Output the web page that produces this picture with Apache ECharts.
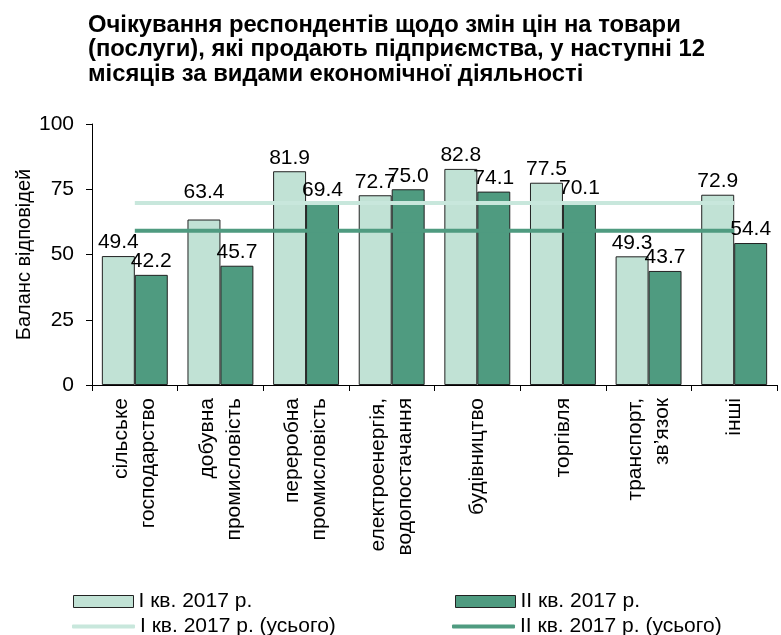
<!DOCTYPE html>
<html>
<head>
<meta charset="utf-8">
<script src="https://cdn.jsdelivr.net/npm/echarts@6/dist/echarts.min.js"></script>
<style>html,body{margin:0;padding:0;background:#fff}#c{width:781px;height:635px}</style>
</head>
<body>
<div id="c"></div>
<script>
const categories = ['сільське\nгосподарство', 'добувна\nпромисловість', 'переробна\nпромисловість', 'електроенергія,\nводопостачання', 'будівництво', 'торгівля', 'транспорт,\nзв’язок', 'інші'];
const q1 = [49.4, 63.4, 81.9, 72.7, 82.8, 77.5, 49.3, 72.9];
const q2 = [42.2, 45.7, 69.4, 75.0, 74.1, 70.1, 43.7, 54.4];
const q1Total = [69.7, 69.7, 69.7, 69.7, 69.7, 69.7, 69.7, 69.7];
const q2Total = [59.1, 59.1, 59.1, 59.1, 59.1, 59.1, 59.1, 59.1];
const yTicks = [0, 25, 50, 75, 100];
const names = ['І кв. 2017 р.', 'ІІ кв. 2017 р.', 'І кв. 2017 р. (усього)', 'ІІ кв. 2017 р. (усього)'];

const FONT = 'Liberation Sans, Arial, sans-serif';
const LIGHT = '#c1e2d5';
const DARK = '#4f9b80';
const LIGHTLINE = '#c8e7dc';
const FS = 21;

const chart = echarts.init(document.getElementById('c'));
function legendItem(name, left, top, isLine) {
  return {
    data: [{ name: name, icon: isLine ? 'roundRect' : 'rect' }],
    left: left, top: top, orient: 'horizontal', itemGap: 0,
    itemWidth: isLine ? 63 : 60, itemHeight: isLine ? 4 : 12,
    itemStyle: isLine ? { borderWidth: 0 } : { borderColor: '#222', borderWidth: 1 },
    textStyle: { fontFamily: FONT, fontSize: FS, color: '#000', padding: [0, 0, 0, 0] },
    selectedMode: false, padding: 0
  };
}
// Label for the point whose label would collide with the total line is lifted above it (as in the original).
const q1Data = q1.map((v, i) => (v < q1Total[i] && v + 8 > q1Total[i]) ? { value: v, label: { distance: 17 } } : v);

chart.setOption({
  animation: false,
  textStyle: { fontFamily: FONT },
  title: {
    text: 'Очікування респондентів щодо змін цін на товари\n(послуги), які продають підприємства, у наступні 12\nмісяців за видами економічної діяльності',
    left: 83, top: 8,
    textStyle: { fontFamily: FONT, fontSize: 23.8, fontWeight: 'bold', color: '#000', lineHeight: 24.5 }
  },
  legend: [
    legendItem(names[0], 73, 591, false),
    legendItem(names[1], 455, 591, false),
    legendItem(names[2], 72, 616, true),
    legendItem(names[3], 452, 616, true)
  ],
  grid: { left: 92, right: 4, top: 124, bottom: 250, containLabel: false },
  xAxis: {
    type: 'category', data: categories,
    axisLine: { show: true, lineStyle: { color: '#000', width: 1 } },
    axisTick: { show: true, alignWithLabel: false, length: 6, lineStyle: { color: '#000' } },
    axisLabel: { interval: 0, rotate: 90, margin: 13, fontSize: FS, color: '#000', fontFamily: FONT, lineHeight: 27 }
  },
  yAxis: {
    type: 'value', min: 0, max: 100, interval: 25,
    name: 'Баланс відповідей', nameLocation: 'middle', nameGap: 58, nameMoveOverlap: false,
    nameTextStyle: { fontSize: 20, color: '#000', fontFamily: FONT },
    splitLine: { show: false },
    axisLine: { show: true, lineStyle: { color: '#000', width: 1 } },
    axisTick: { show: true, length: 6, lineStyle: { color: '#000' } },
    axisLabel: { margin: 18, fontSize: FS, color: '#000', fontFamily: FONT,
      formatter: v => yTicks.includes(v) ? String(v) : '' }
  },
  series: [
    {
      name: names[0], type: 'bar', data: q1Data, barGap: '0%', barCategoryGap: '23%',
      itemStyle: { color: LIGHT, borderColor: '#222', borderWidth: 1 },
      label: { show: true, position: 'top', distance: 3, fontSize: FS, color: '#000', fontFamily: FONT, formatter: p => Number(p.value).toFixed(1) },
      z: 2
    },
    {
      name: names[1], type: 'bar', data: q2, barGap: '0%', barCategoryGap: '23%',
      itemStyle: { color: DARK, borderColor: '#222', borderWidth: 1 },
      label: { show: true, position: 'top', distance: 3, fontSize: FS, color: '#000', fontFamily: FONT, formatter: p => Number(p.value).toFixed(1) },
      z: 2
    },
    {
      name: names[2], type: 'line', data: q1Total, symbol: 'none', showSymbol: false,
      lineStyle: { color: LIGHTLINE, width: 4 }, itemStyle: { color: LIGHTLINE }, z: 5
    },
    {
      name: names[3], type: 'line', data: q2Total, symbol: 'none', showSymbol: false,
      lineStyle: { color: DARK, width: 4 }, itemStyle: { color: DARK }, z: 5
    }
  ]
});
</script>
</body>
</html>
